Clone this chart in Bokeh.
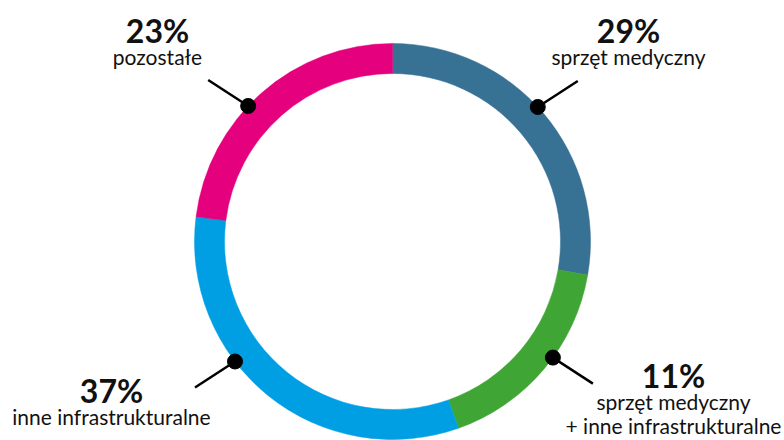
from bokeh.plotting import figure
from bokeh.models import Range1d, ColumnDataSource
from bokeh.embed import file_html
from bokeh.resources import INLINE
from bokeh.core.properties import value
import math

# Data (shares as drawn in the ring, clockwise from 12 o'clock)
categories = ["sprzęt medyczny", "sprzęt medyczny + inne infrastrukturalne",
              "inne infrastrukturalne", "pozostałe"]
shares = [27.7, 16.9, 32.4, 23.0]
pct_labels = ["29%", "11%", "37%", "23%"]
label_lines = [["sprzęt medyczny"],
               ["sprzęt medyczny", "+ inne infrastrukturalne"],
               ["inne infrastrukturalne"],
               ["pozostałe"]]
colors = ["#377194", "#3fa535", "#009fe3", "#e5007e"]
# where the leader dot sits on the ring (degrees clockwise from top)
dot_angles = [47.2, 125.9, 232.7, 313.2]

W, H = 784, 440
cx, cy = 392, 440 - 241
r_out, r_in = 198, 168

p = figure(width=W, height=H, output_backend="svg", toolbar_location=None,
           x_range=Range1d(0, W), y_range=Range1d(0, H), min_border=0)
p.axis.visible = False
p.grid.visible = False
p.outline_line_color = None
p.background_fill_color = "white"
p.border_fill_color = "white"

total = sum(shares)
starts, ends = [], []
acc = 0.0
for s in shares:
    a1 = acc / total * 360.0
    a2 = (acc + s) / total * 360.0
    # convert clockwise-from-top to bokeh (anticlockwise from +x)
    starts.append(math.radians(90 - a2))
    ends.append(math.radians(90 - a1))
    acc += s

src = ColumnDataSource(dict(x=[cx] * 4, y=[cy] * 4, start=starts, end=ends, color=colors))
p.annular_wedge(x="x", y="y", inner_radius=r_in, outer_radius=r_out,
                start_angle="start", end_angle="end", fill_color="color",
                line_color="color", line_width=0.5, source=src)

# leader dots and lines
dx, dy = [], []
lx0, ly0, lx1, ly1 = [], [], [], []
for a in dot_angles:
    t = math.radians(a)
    x = cx + r_out * math.sin(t)
    y = cy + r_out * math.cos(t)
    dx.append(x); dy.append(y)
    sx = 1 if math.sin(t) > 0 else -1
    sy = 1 if math.cos(t) > 0 else -1
    lx0.append(x); ly0.append(y)
    lx1.append(x + sx * 40); ly1.append(y + sy * 26)

p.segment(x0=lx0, y0=ly0, x1=lx1, y1=ly1, line_color="black", line_width=2.5)
p.circle(x=dx, y=dy, radius=7.5, fill_color="black", line_color="black")

# text positions (centre x, baseline y of percentage) in px from top
text_pos = [(628, 30), (673, 375), (111, 390), (157, 30)]
for (tx, ty), pct, lines in zip(text_pos, pct_labels, label_lines):
    p.text(x=[tx], y=[H - ty], text=[pct], text_font=value("Lato"),
           text_font_style="bold", text_font_size="32px", text_align="center",
           text_baseline="alphabetic", text_color="#111111")
    for i, ln in enumerate(lines):
        p.text(x=[tx], y=[H - (ty + 26 + 24 * i)], text=[ln], text_font=value("Lato"),
               text_font_size="21px", text_align="center",
               text_baseline="alphabetic", text_color="#111111")

open("out.html", "w").write(file_html(p, INLINE))
